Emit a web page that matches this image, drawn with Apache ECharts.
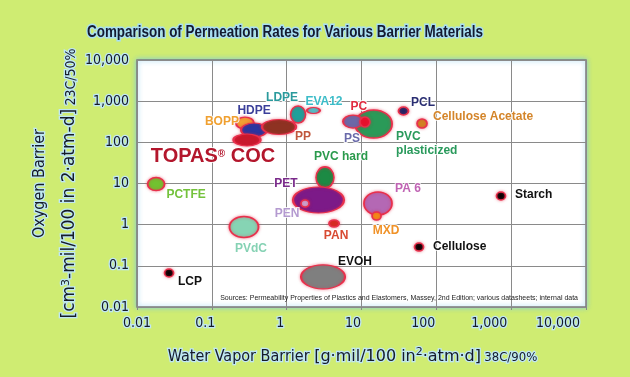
<!DOCTYPE html>
<html><head><meta charset="utf-8">
<script src="https://cdn.jsdelivr.net/npm/echarts@6/dist/echarts.min.js"></script>
<style>html,body{margin:0;padding:0;background:#cfec72;} #c{width:630px;height:377px;}</style>
</head><body><div id="c"></div>
<script>
// ---- data (draw order: back to front) ----
const materials = ['BOPP','HDPE','TOPAS® COC','PP','LDPE','EVA12','PVC plasticized','PS','PC','PCL','Cellulose Acetate','PVC hard','PET','PEN','PA 6','MXD','PAN','PCTFE','PVdC','LCP','EVOH','Cellulose','Starch'];
const waterVapor = [0.277,0.367,0.295,0.79,1.42,2.28,14.5,7.7,11.1,36.4,64.4,3.25,2.66,1.76,16.6,15.9,4.3,0.018,0.269,0.0268,3.06,58.7,731];
const oxygen     = [294,199,114,236,474,593,279,320,312,577,286,14.0,3.97,3.27,3.27,1.62,1.07,9.7,0.877,0.067,0.054,0.286,4.97];
const xTickLabels = ['0.01','0.1','1','10','100','1,000','10,000'];
const yTickLabels = ['0.01','0.1','1','10','100','1,000','10,000'];
const chartTitle = 'Comparison of Permeation Rates for Various Barrier Materials';
const sourceNote = 'Sources: Permeability Properties of Plastics and Elastomers, Massey, 2nd Edition; various datasheets; internal data';

// ---- styles ----
const fillColors = ['#f2a234','#2b35a0','#c8182c','#8e3222','#1fa09a','#4cc4cc','#2a9a58','#6b68a8','#e8102c','#1c2366','#d08422','#1c8a44','#7c1a88','#c8aad8','#b468b4','#f48c14','#d42a20','#72c230','#86d4b4','#000000','#7f7f7f','#000000','#000000'];
const bubbleSizes = [[18,12],[26,14],[27,12],[34,15],[15,17],[13,6],[37,28],[20,13],[10,10],[10,8],[10,9],[18,21],[51,26],[8,7],[28,23],[9,8],[10,7],[17,13],[29,21],[9,8],[44,24],[9,8],[9,8]];
const labelTexts = ['BOPP','HDPE','TOPAS{r|®} COC','PP','LDPE','EVA12','PVC\nplasticized','PS','PC','PCL','Cellulose Acetate','PVC hard','PET','PEN','PA 6','MXD','PAN','PCTFE','PVdC','LCP','EVOH','Cellulose','Starch'];
const labelColors = ['#f0a030','#3b3f9a','#b3162c','#c0563c','#2a9a9c','#3cbcc8','#2a9a5c','#6a6aaa','#e02c40','#2a2e72','#d4852a','#2a9a4c','#7a2a8a','#b49ad0','#c064b4','#f09228','#d84a32','#74c23c','#86d2b4','#111','#111','#111','#111'];
const labelOffsets = [[-23,-1],[0,-19],[-34,16],[24,10],[-16,-16.5],[10.5,-8.5],[22.5,20],[-1,17.5],[-6,-15],[19.5,-8],[11,-6.5],[16,-20.5],[-32.5,-16],[-18,10.5],[30,-14.5],[9.5,15],[2,12.5],[30,11],[7,22],[21,9],[32,-15],[14,0],[14,-1]];
const labelAlign = ['center','center','center','center','center','center','left','center','center','center','left','center','center','center','center','center','center','center','center','center','center','left','left'];
const labelSize = [12,12,20,12,12,12,12,12,12,12,12,12,12,12,12,12,12,12,12,12,12,12,12];
const xLabelShift = [0,-6.5,-6.5,-8.5,-13,-22,-28];

const ellipse = 'path://M0,50A50,50,0,1,1,100,50A50,50,0,1,1,0,50Z';
const glow = '#bfe7f4';
const ink = '#151b28';
const condFont = 'DejaVu Sans Condensed, DejaVu Sans, sans-serif';
const wideFont = 'DejaVu Sans, sans-serif';
const glowText = (family, size, extra) => Object.assign({fontFamily: family, fontSize: size, color: ink, textBorderColor: glow, textBorderWidth: 2.5}, extra || {});

const chart = echarts.init(document.getElementById('c'), null, {renderer:'canvas'});

const xRich = {};
xLabelShift.forEach((s,i)=>{ xRich['s'+i] = {padding:[0, Math.max(0,-2*s), 0, Math.max(0,2*s)]}; });

const option = {
  backgroundColor: '#cfec72',
  animation: false,
  graphic: [{
    type: 'text', x: 87, y: 33, scaleX: 0.84, z: 10,
    style: {text: chartTitle, font: 'bold 16px "Liberation Sans", Arial, sans-serif', fill: '#141a30', stroke: '#a9dff2', lineWidth: 3, verticalAlign: 'middle', align: 'left'}
  }],
  title: [{
    text: sourceNote,
    right: 52, top: 295, padding: 0,
    textStyle: {fontFamily: 'Liberation Sans, sans-serif', fontWeight: 'normal', fontSize: 7, color: '#222'}
  }],
  grid: {left: 137, right: 44, top: 60, bottom: 70, show: true, backgroundColor: '#ffffff', borderColor: '#7a7a7a', borderWidth: 1.5, shadowColor: 'rgba(120,200,235,0.9)', shadowBlur: 5, containLabel: false, outerBoundsMode: 'none'},
  xAxis: {
    type: 'log', logBase: 10, min: 0.01, max: 10000,
    axisLine: {show: false},
    axisTick: {show: true, length: 3, lineStyle: {color: '#888'}},
    splitLine: {show: true, lineStyle: {color: '#8a8a8a', width: 1}},
    axisLabel: Object.assign(glowText(condFont, 14), {
      margin: 9,
      formatter: v => { const i = Math.round(Math.log10(v)) + 2; return '{s'+i+'|'+xTickLabels[i]+'}'; },
      rich: xRich
    }),
    name: '{a|Water Vapor Barrier }{b|[g·mil/100 in}{sup|2}{b|·atm·d]} {s|38C/90%}',
    nameLocation: 'middle', nameGap: 40, nameMoveOverlap: false,
    nameTextStyle: {
      padding: [0, 18, 0, 0],
      rich: {
        a: glowText(condFont, 16),
        b: glowText(wideFont, 16),
        sup: glowText(wideFont, 11, {verticalAlign: 'top', padding: [0,0,8,0]}),
        s: glowText(condFont, 13, {padding: [3,0,0,0]})
      }
    }
  },
  yAxis: {
    type: 'log', logBase: 10, min: 0.01, max: 10000,
    axisLine: {show: false},
    axisTick: {show: false},
    splitLine: {show: true, lineStyle: {color: '#8a8a8a', width: 1}},
    axisLabel: Object.assign(glowText(condFont, 14), {
      margin: 8,
      formatter: v => yTickLabels[Math.round(Math.log10(v)) + 2]
    }),
    name: '{a|Oxygen Barrier}\n{b|[cm}{sup|3}{b|-mil/100 in 2·atm-d]} {s|23C/50%}',
    nameLocation: 'middle', nameRotate: 90, nameGap: 52, nameMoveOverlap: false,
    nameTextStyle: {
      rich: {
        a: glowText(condFont, 16, {lineHeight: 30}),
        b: glowText(wideFont, 17, {lineHeight: 30}),
        sup: glowText(wideFont, 11, {padding: [0,0,8,0]}),
        s: glowText(condFont, 14, {padding: [3,0,0,0]})
      }
    }
  },
  series: [{
    type: 'scatter',
    symbol: ellipse,
    emphasis: {disabled: true},
    itemStyle: {borderColor: '#e8304c', borderWidth: 1.6, shadowBlur: 3, shadowColor: 'rgba(230,40,70,0.5)', opacity: 1},
    label: {
      show: true, position: 'inside',
      fontFamily: 'Liberation Sans, Arial, sans-serif', fontWeight: 'bold',
      textBorderColor: 'rgba(255,255,255,0.85)', textBorderWidth: 2,
      lineHeight: 14,
      formatter: p => labelTexts[p.dataIndex],
      rich: {r: {fontSize: 10, fontWeight: 'bold', color: '#b3162c', verticalAlign: 'top', padding: [0,0,10,0]}}
    },
    data: materials.map((m, i) => ({
      name: m,
      value: [waterVapor[i], oxygen[i]],
      symbolSize: bubbleSizes[i],
      itemStyle: {color: fillColors[i]},
      label: {color: labelColors[i], offset: labelOffsets[i], align: labelAlign[i], fontSize: labelSize[i]}
    }))
  }]
};
chart.setOption(option);
</script>
</body></html>
